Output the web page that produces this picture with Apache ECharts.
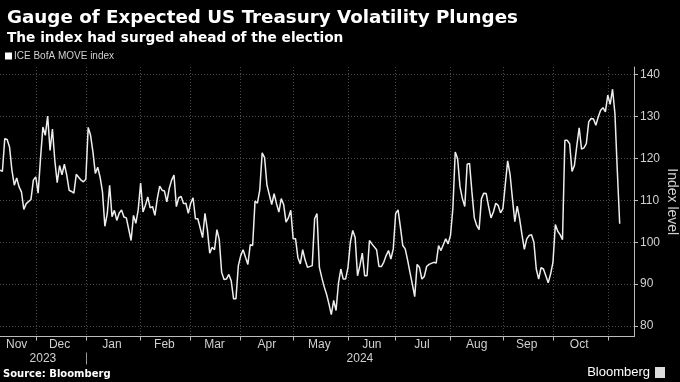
<!DOCTYPE html>
<html>
<head>
<meta charset="utf-8">
<script src="https://cdn.jsdelivr.net/npm/echarts@6/dist/echarts.min.js"></script>
<style>
html,body{margin:0;padding:0;background:#000;}
#chart{width:680px;height:382px;}
</style>
</head>
<body>
<div id="chart"></div>
<script>
// Business-day axis: weekdays from 2023-11-10 to 2024-11-18
const startDate = '2023-11-10';
const endDate = '2024-11-18';
const monthNames = ['Jan','Feb','Mar','Apr','May','Jun','Jul','Aug','Sep','Oct','Nov','Dec'];
const yTicks = [80, 90, 100, 110, 120, 130, 140];
const seriesName = 'ICE BofA MOVE index';

// MOVE index, one value per weekday from startDate (null = not read)
const moveValues = [
117.2,116.9,124.7,124.5,122.7,117.2,113.6,115.3,113.2,112.0,
107.8,109.2,null,110.2,114.8,115.6,111.7,120.0,127.5,125.5,
130.1,121.9,127.0,119.5,114.2,118.3,116.1,118.6,116.0,112.4,
112.1,111.7,116.2,null,114.8,114.4,115.0,127.4,125.5,121.5,
116.4,117.9,115.5,112.0,103.8,106.8,113.6,106.1,107.6,105.2,
106.9,107.7,106.0,105.8,null,100.4,106.4,104.5,107.8,114.1,
107.2,108.8,110.8,108.2,108.5,106.4,110.4,113.4,112.4,112.2,
109.6,112.8,114.8,116.0,108.5,110.6,110.9,109.2,109.3,106.9,
109.3,110.6,105.6,105.6,null,101.1,106.9,103.0,97.4,98.8,
98.2,103.0,100.6,92.8,91.1,91.2,92.3,90.8,86.5,86.5,
94.4,96.8,98.2,96.4,94.7,99.4,99.2,109.8,109.3,112.5,
121.3,120.2,113.6,null,109.0,111.6,109.2,107.2,110.4,109.0,
104.8,105.8,107.6,100.8,100.8,96.3,94.8,98.2,95.8,94.0,
null,94.4,105.6,106.8,94.0,91.6,89.4,87.6,85.3,82.7,
86.1,83.7,90.2,93.6,91.2,91.2,94.0,100.0,102.8,101.1,
92.0,94.4,97.4,92.0,92.0,100.4,99.6,null,98.2,94.2,
94.2,95.2,96.8,98.0,96.0,98.4,106.8,107.7,103.6,99.2,
98.4,95.8,92.8,90.0,87.0,94.7,94.0,91.2,91.8,94.2,
94.7,null,95.2,95.0,99.2,98.0,99.4,100.8,99.6,101.6,
108.0,121.5,119.9,113.2,110.4,108.5,118.6,118.8,112.0,105.8,
104.0,103.0,110.4,111.7,111.6,108.5,105.8,107.2,109.3,108.8,
107.0,108.0,113.8,119.4,116.2,110.4,104.9,108.6,105.6,101.8,
98.3,100.8,101.6,101.8,100.0,93.6,91.2,93.9,93.6,92.0,
90.3,92.4,95.2,104.2,102.6,101.8,100.6,124.3,124.3,123.5,
116.9,118.3,123.0,127.3,122.2,122.5,123.5,128.7,129.5,129.4,
127.9,129.9,131.5,132.1,131.1,135.1,132.9,136.5,130.7,117.0,
104.4
];

// build weekday categories
function pad(n){return (n<10?'0':'')+n;}
const categories = [];
(function(){
  const d = new Date(startDate + 'T00:00:00Z');
  const e = new Date(endDate + 'T00:00:00Z');
  while (d <= e) {
    const wd = d.getUTCDay();
    if (wd !== 0 && wd !== 6) {
      categories.push(d.getUTCFullYear() + '-' + pad(d.getUTCMonth()+1) + '-' + pad(d.getUTCDate()));
    }
    d.setUTCDate(d.getUTCDate()+1);
  }
})();

// month starts (first weekday of each month) and label positions
const monthStart = new Set();
const monthStartList = [0];
for (let i = 1; i < categories.length; i++) {
  if (categories[i].slice(5,7) !== categories[i-1].slice(5,7)) { monthStart.add(i); monthStartList.push(i); }
}
const monthLabelIdx = new Set();
for (let k = 0; k < monthStartList.length - 1; k++) {
  monthLabelIdx.add(Math.floor((monthStartList[k] + monthStartList[k+1]) / 2));
}
// year separators and year label positions
const yearStart = [];
for (let i = 1; i < categories.length; i++) {
  if (categories[i].slice(0,4) !== categories[i-1].slice(0,4)) yearStart.push(i);
}
const yearLabelIdx = new Set([Math.floor(yearStart[0]/2), Math.floor((yearStart[0] + categories.length - 1)/2)]);

const chart = echarts.init(document.getElementById('chart'), null, {renderer:'canvas'});
const fontFamily = '"Liberation Sans", Arial, sans-serif';
const titleFont = '"DejaVu Sans", sans-serif';

chart.setOption({
  backgroundColor: '#000',
  animation: false,
  textStyle: {fontFamily: fontFamily},
  title: [
    {text: 'Gauge of Expected US Treasury Volatility Plunges', left: 2, top: 4,
     textStyle: {color:'#fff', fontSize: 18.3, fontWeight:'bold', fontFamily: titleFont}},
    {text: 'The index had surged ahead of the election', left: 2, top: 26,
     textStyle: {color:'#fff', fontSize: 13.7, fontWeight:'bold', fontFamily: titleFont}}
  ],
  legend: {
    left: 5, top: 51, padding: 0, itemWidth: 7, itemHeight: 7, itemGap: 10,
    icon: 'rect',
    textStyle: {color:'#d0d0d0', fontSize: 10, padding:[0,0,0,-3]},
    data: [{name: seriesName, itemStyle:{color:'#fff'}}]
  },
  grid: {left: 0, right: 46, top: 67, bottom: 45.5, containLabel: false, outerBoundsMode: 'none'},
  xAxis: [
    {
      type: 'category', data: categories, boundaryGap: false,
      axisLine: {show:true, lineStyle:{color:'#bbb', width:1}},
      axisTick: {show:true, length: 4, inside: false, interval: (i) => monthStart.has(i), lineStyle:{color:'#bbb'}},
      splitLine: {show:true, interval: (i) => monthStart.has(i), lineStyle:{color:'#4a4a4a', type:[1,2], width:1}},
      axisLabel: {show:true, interval: (i) => monthLabelIdx.has(i), margin: 2,
        color:'#d0d0d0', fontSize: 12, hideOverlap:false,
        formatter: (v) => monthNames[parseInt(v.slice(5,7),10)-1]}
    },
    {
      type: 'category', data: categories, boundaryGap: false, position: 'bottom', offset: 16,
      axisLine: {show:false},
      axisTick: {show:true, length: 12, interval: (i) => yearStart.indexOf(i) >= 0, lineStyle:{color:'#999'}},
      splitLine: {show:false},
      axisLabel: {show:true, interval: (i) => yearLabelIdx.has(i), margin: 0,
        color:'#d0d0d0', fontSize: 12, hideOverlap:false,
        formatter: (v) => v.slice(0,4)}
    }
  ],
  yAxis: {
    type: 'value', position: 'right', min: 77.5, max: 141.8,
    name: 'Index level', nameLocation: 'middle', nameRotate: -90, nameGap: 38,
    nameMoveOverlap: false,
    nameTextStyle: {color:'#d0d0d0', fontSize: 14, align: 'center', verticalAlign: 'middle'},
    axisLine: {show:true, lineStyle:{color:'#bbb', width:1}},
    axisTick: {show:true, length: 4, customValues: yTicks, lineStyle:{color:'#bbb'}},
    axisLabel: {show:true, customValues: yTicks, margin: 6, color:'#d0d0d0', fontSize: 12},
    splitLine: {show:true, lineStyle:{color:'#4a4a4a', type:[1,2], width:1}}
  },
  series: [{
    name: seriesName, type: 'line', data: moveValues, xAxisIndex: 0,
    showSymbol: false, symbol: 'none', connectNulls: true,
    lineStyle: {color:'#eeeeee', width: 1.5}, itemStyle:{color:'#fff'}
  }],
  graphic: [
    {type:'text', left: 3, top: 369, style:{text:'Source: Bloomberg', fill:'#fff', font:'bold 10px "DejaVu Sans", sans-serif'}},
    {type:'text', right: 30, top: 366, style:{text:'Bloomberg', fill:'#fff', font:'13px "Liberation Sans", Arial, sans-serif'}},
    {type:'rect', right: 15, top: 367, shape:{width:10, height:11}, style:{fill:'#ddd'}}
  ]
});
</script>
</body>
</html>
